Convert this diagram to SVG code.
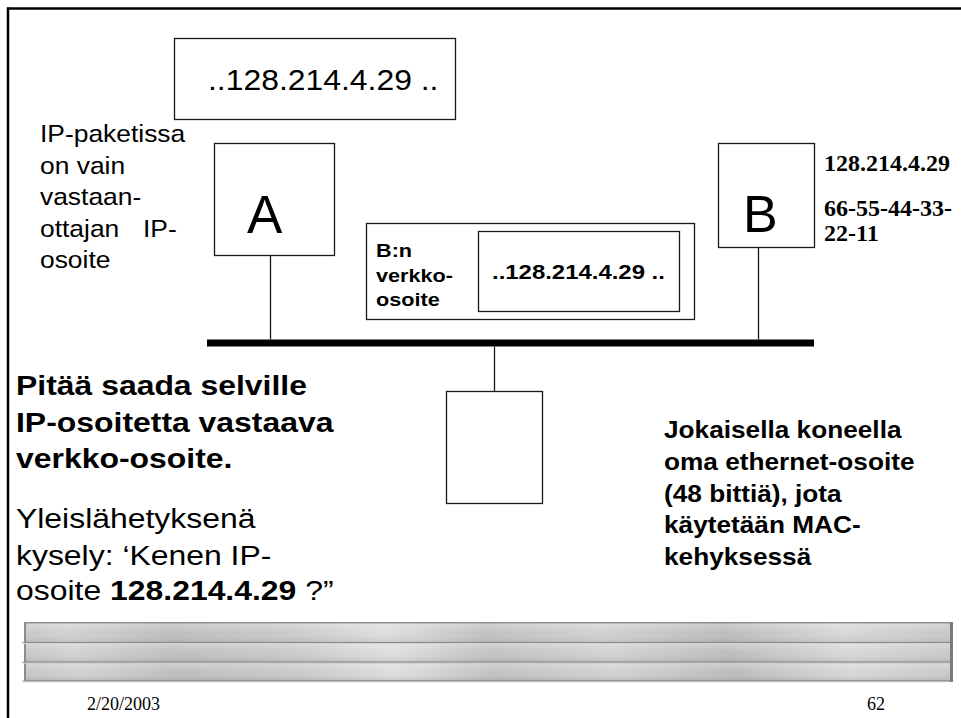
<svg xmlns="http://www.w3.org/2000/svg" width="961" height="718" viewBox="0 0 961 718">
<style>
.box{fill:#fff;stroke:#1a1a1a;stroke-width:1.3}
.wire{stroke:#1a1a1a;stroke-width:1.3;fill:none}
.ar{font-family:"Liberation Sans",Arial,sans-serif;fill:#000}
.b{font-weight:bold}
.tm{font-family:"Liberation Serif","Times New Roman",serif;fill:#000}
</style>
<defs>
<linearGradient id="metal" gradientUnits="userSpaceOnUse" x1="0" y1="760" x2="940" y2="540">
<stop offset="0" stop-color="#bcbcbc"/>
<stop offset="0.1" stop-color="#d2d2d2"/>
<stop offset="0.2" stop-color="#bfbfbf"/>
<stop offset="0.32" stop-color="#cacaca"/>
<stop offset="0.42" stop-color="#dedede"/>
<stop offset="0.52" stop-color="#c2c2c2"/>
<stop offset="0.64" stop-color="#d2d2d2"/>
<stop offset="0.76" stop-color="#bdbdbd"/>
<stop offset="0.88" stop-color="#d8d8d8"/>
<stop offset="1" stop-color="#c6c6c6"/>
</linearGradient>
<linearGradient id="shade" x1="0" y1="0" x2="0" y2="1">
<stop offset="0" stop-color="#ffffff" stop-opacity="0.25"/>
<stop offset="0.5" stop-color="#ffffff" stop-opacity="0"/>
<stop offset="1" stop-color="#000000" stop-opacity="0.08"/>
</linearGradient>
</defs>

<rect x="0" y="0" width="961" height="718" fill="#fff"/>

<g id="frame-border">
<line x1="7" y1="8.5" x2="961" y2="8.5" stroke="#000" stroke-width="2.5"/>
<line x1="8" y1="7.5" x2="8" y2="718" stroke="#000" stroke-width="2.5"/>
</g>

<g id="ip-packet">
<rect class="box" x="174.5" y="38.5" width="281" height="81"/>
<text class="ar" font-size="29" transform="translate(208,90) scale(1.1 1)">..128.214.4.29 ..</text>
</g>

<g id="note-ip">
<text class="ar" font-size="24" transform="translate(40,142) scale(1.1 1)">
<tspan x="0" y="0">IP-paketissa</tspan>
<tspan x="0" y="32">on vain</tspan>
<tspan x="0" y="63">vastaan-</tspan>
<tspan x="0" y="95">ottajan</tspan><tspan x="93.6" y="95">IP-</tspan>
<tspan x="0" y="126">osoite</tspan>
</text>
</g>

<g id="host-A">
<rect class="box" x="214.5" y="143.5" width="120" height="112"/>
<text class="ar" font-size="53" x="247" y="233">A</text>
</g>

<g id="host-B">
<rect class="box" x="718.5" y="143.5" width="96" height="104"/>
<text class="ar" font-size="52" x="743" y="232">B</text>
</g>

<g id="host-B-addr">
<text class="tm b" font-size="24">
<tspan x="824" y="171">128.214.4.29</tspan>
<tspan x="824" y="216">66-55-44-33-</tspan>
<tspan x="824" y="241">22-11</tspan>
</text>
</g>

<g id="mac-frame">
<rect class="box" x="366.5" y="223.5" width="328" height="96"/>
<text class="ar b" font-size="19" transform="translate(376,257) scale(1.14 1)">
<tspan x="0" y="0">B:n</tspan>
<tspan x="0" y="25">verkko-</tspan>
<tspan x="0" y="49">osoite</tspan>
</text>
<rect class="box" x="478.5" y="231.5" width="201" height="80"/>
<text class="ar b" font-size="21" transform="translate(492,279) scale(1.14 1)">..128.214.4.29 ..</text>
</g>

<g id="bus">
<rect x="207" y="339.5" width="607" height="7" fill="#000"/>
</g>

<g id="host-C">
<rect class="box" x="446.5" y="391.5" width="96" height="112"/>
</g>

<g id="connectors">
<line class="wire" x1="270.5" y1="255.5" x2="270.5" y2="339.5"/>
<line class="wire" x1="758.5" y1="247.5" x2="758.5" y2="339.5"/>
<line class="wire" x1="494.5" y1="346.5" x2="494.5" y2="391.5"/>
</g>

<g id="text-left-bold">
<text class="ar b" font-size="28" transform="translate(16,395) scale(1.14 1)">
<tspan x="0" y="0">Pitää saada selville</tspan>
<tspan x="0" y="37">IP-osoitetta vastaava</tspan>
<tspan x="0" y="73">verkko-osoite.</tspan>
</text>
</g>

<g id="text-left-query">
<text class="ar" font-size="28" transform="translate(16,528) scale(1.14 1)">
<tspan x="0" y="0">Yleislähetyksenä</tspan>
<tspan x="0" y="37">kysely: ‘Kenen IP-</tspan>
<tspan x="0" y="72">osoite <tspan class="b">128.214.4.29</tspan> ?”</tspan>
</text>
</g>

<g id="text-right">
<text class="ar b" font-size="23" transform="translate(664,438) scale(1.14 1)">
<tspan x="0" y="0">Jokaisella koneella</tspan>
<tspan x="0" y="32">oma ethernet-osoite</tspan>
<tspan x="0" y="64">(48 bittiä), jota</tspan>
<tspan x="0" y="95">käytetään MAC-</tspan>
<tspan x="0" y="127">kehyksessä</tspan>
</text>
</g>

<g id="footer-bar">
<rect x="24" y="622" width="929" height="60" fill="#8c8c8c"/>
<rect x="26" y="623.5" width="924" height="18.5" fill="url(#metal)"/>
<rect x="26" y="623.5" width="924" height="18.5" fill="url(#shade)"/>
<rect x="26" y="644" width="924" height="17.5" fill="url(#metal)"/>
<rect x="26" y="644" width="924" height="17.5" fill="url(#shade)"/>
<rect x="26" y="663.5" width="924" height="16.5" fill="url(#metal)"/>
<rect x="26" y="663.5" width="924" height="16.5" fill="url(#shade)"/>
<line x1="22" y1="642.8" x2="950" y2="642.8" stroke="#8a8a8a" stroke-width="1"/>
<line x1="22" y1="643.6" x2="950" y2="643.6" stroke="#ececec" stroke-width="0.8"/>
<line x1="22" y1="662.3" x2="950" y2="662.3" stroke="#8a8a8a" stroke-width="1"/>
<line x1="22" y1="663.1" x2="950" y2="663.1" stroke="#ececec" stroke-width="0.8"/>
<line x1="22" y1="681" x2="951" y2="681" stroke="#9a9a9a" stroke-width="1"/>
<line x1="22" y1="682" x2="951" y2="682" stroke="#e6e6e6" stroke-width="1"/>
<rect x="950" y="622" width="3" height="60" fill="#7a7a7a"/>
</g>

<g id="footer-text">
<text class="tm" font-size="18" x="87" y="710">2/20/2003</text>
<text class="tm" font-size="18" x="867" y="710">62</text>
</g>
</svg>
